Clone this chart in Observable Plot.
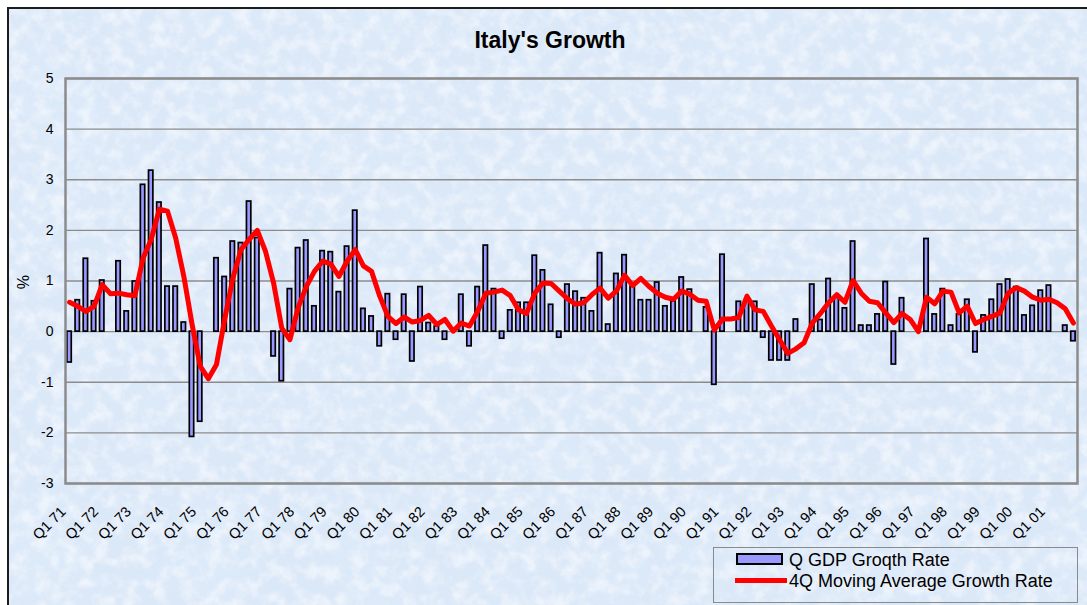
<!DOCTYPE html>
<html><head><meta charset="utf-8">
<script src="https://cdn.jsdelivr.net/npm/d3@7"></script>
<script src="https://cdn.jsdelivr.net/npm/@observablehq/plot@0.6"></script>
<style>
html,body{margin:0;padding:0;background:#fff;}
body{width:1087px;height:605px;overflow:hidden;position:relative;font-family:"Liberation Sans",Arial,sans-serif;color:#000;}
#frame{position:absolute;left:7px;top:7px;width:1100px;height:620px;border:2px solid #1c1c1c;box-sizing:border-box;overflow:hidden;background:#dbe8f8;}
#tex{position:absolute;left:0;top:0;}
#chart{position:absolute;left:0;top:0;}
#title{position:absolute;left:0;width:1100px;top:29px;text-align:center;font-weight:bold;font-size:23px;line-height:23px;}
#ylab{position:absolute;left:16px;top:273px;width:16px;height:18px;font-size:16px;line-height:18px;text-align:center;transform:rotate(-90deg);}
#legend{position:absolute;left:713px;top:547px;width:365px;height:56px;border:1px solid #8a8a8a;box-sizing:border-box;}
.lt{position:absolute;font-size:18px;line-height:18px;white-space:nowrap;}
#sw1{position:absolute;left:736px;top:553px;width:47px;height:12px;background:#9999ff;border:2px solid #000;box-sizing:border-box;}
#sw2{position:absolute;left:735px;top:578px;width:52px;height:5px;background:#ff0000;}
</style></head>
<body>
<div id="frame">
<svg id="tex" width="1100" height="620">
<filter id="n" x="0" y="0" width="100%" height="100%"><feTurbulence type="fractalNoise" baseFrequency="0.07" numOctaves="4" seed="7"/><feColorMatrix type="matrix" values="0 0 0 0 1  0 0 0 0 1  0 0 0 0 1  2.6 0 0 0 -1.05"/></filter>
<filter id="b" x="0" y="0" width="100%" height="100%"><feTurbulence type="fractalNoise" baseFrequency="0.012" numOctaves="2" seed="3"/><feColorMatrix type="matrix" values="0 0 0 0 0.75  0 0 0 0 0.85  0 0 0 0 0.97  2.2 0 0 0 -0.95"/></filter>
<rect width="1100" height="620" fill="#dbe8f8"/>
<rect width="1100" height="620" filter="url(#b)" opacity="0.4"/>
<rect width="1100" height="620" filter="url(#n)" opacity="0.5"/>
</svg>
</div>
<div id="title">Italy's Growth</div>
<div id="ylab">%</div>
<div id="legend"></div>
<div id="sw1"></div><div class="lt" style="left:789px;top:551px;">Q GDP Groqth Rate</div>
<div id="sw2"></div><div class="lt" style="left:789px;top:572px;">4Q Moving Average Growth Rate</div>
<div id="chart"></div>
<script>
const years = ["71","72","73","74","75","76","77","78","79","80","81","82","83","84","85","86","87","88","89","90","91","92","93","94","95","96","97","98","99","00","01"];
const quarterNames = ["Q1","Q2","Q3","Q4"];
const tickLabels = ["Q1 71","Q1 72","Q1 73","Q1 74","Q1 75","Q1 76","Q1 77","Q1 78","Q1 79","Q1 80","Q1 81","Q1 82","Q1 83","Q1 84","Q1 85","Q1 86","Q1 87","Q1 88","Q1 89","Q1 90","Q1 91","Q1 92","Q1 93","Q1 94","Q1 95","Q1 96","Q1 97","Q1 98","Q1 99","Q1 00","Q1 01"];
const yTicks = [-3,-2,-1,0,1,2,3,4,5];

// Quarterly GDP growth rate, %
const growth = [
 -0.61, 0.62, 1.44, 0.60, 1.01, 0.00, 1.39, 0.40, 0.99, 2.90,
  3.18, 2.55, 0.89, 0.89, 0.18,-2.08,-1.78, 0.00, 1.45, 1.08,
  1.78, 1.75, 2.57, 1.85, 0.00,-0.49,-0.98, 0.84, 1.65, 1.80,
  0.50, 1.59, 1.57, 0.78, 1.68, 2.39, 0.45, 0.30,-0.29, 0.74,
 -0.16, 0.73,-0.59, 0.88, 0.17, 0.10,-0.16, 0.00, 0.73,-0.29,
  0.88, 1.70, 0.84,-0.14, 0.42, 0.57, 0.57, 1.50, 1.21, 0.53,
 -0.12, 0.93, 0.79, 0.66, 0.40, 1.55, 0.14, 1.14, 1.51, 0.89,
  0.62, 0.62, 0.97, 0.50, 0.60, 1.07, 0.83, 0.00, 0.48,-1.05,
  1.52, 0.00, 0.59, 0.62, 0.59,-0.12,-0.57,-0.57,-0.57, 0.24,
  0.00, 0.93, 0.23, 1.04, 0.70, 0.46, 1.78, 0.12, 0.12, 0.34,
  0.98,-0.65, 0.66, 0.00, 0.00, 1.83, 0.34, 0.84, 0.12, 0.34,
  0.63,-0.41, 0.32, 0.63, 0.93, 1.03, 0.88, 0.32, 0.51, 0.81,
  0.91, 0.00, 0.12,-0.19
];
// 4Q moving average growth rate, %
const movingAvg = [
  0.58, 0.50, 0.40, 0.50, 0.93, 0.75, 0.76, 0.73, 0.71, 1.45,
  1.82, 2.42, 2.38, 1.85, 1.09, 0.15,-0.68,-0.93,-0.65, 0.24,
  1.05, 1.62, 1.82, 2.00, 1.59, 0.96, 0.07,-0.16, 0.47, 0.89,
  1.19, 1.39, 1.34, 1.09, 1.39, 1.62, 1.30, 1.19, 0.70, 0.30,
  0.16, 0.29, 0.19, 0.22, 0.32, 0.14, 0.24, 0.01, 0.17, 0.11,
  0.40, 0.76, 0.78, 0.82, 0.71, 0.43, 0.36, 0.76, 0.96, 0.95,
  0.80, 0.65, 0.54, 0.57, 0.73, 0.86, 0.66, 0.80, 1.11, 0.91,
  1.05, 0.89, 0.76, 0.68, 0.64, 0.80, 0.74, 0.62, 0.60, 0.03,
  0.25, 0.25, 0.28, 0.70, 0.43, 0.40, 0.11,-0.16,-0.43,-0.34,
 -0.22, 0.17, 0.36, 0.57, 0.73, 0.58, 1.01, 0.76, 0.60, 0.57,
  0.37, 0.18, 0.36, 0.24, 0.00, 0.68, 0.55, 0.80, 0.78, 0.37,
  0.50, 0.16, 0.24, 0.30, 0.37, 0.76, 0.87, 0.80, 0.68, 0.62,
  0.64, 0.57, 0.45, 0.17
];

const categories = [];
for (const y of years) for (const q of quarterNames) categories.push(q + " " + y);
categories.length = growth.length;

const data = categories.map((q, i) => ({q, g: growth[i], m: movingAvg[i]}));

const chart = Plot.plot({
  width: 1087, height: 540,
  marginLeft: 65, marginRight: 10, marginTop: 78, marginBottom: 57,
  style: {background: "transparent", fontFamily: '"Liberation Sans", Arial, sans-serif', fontSize: "14px", color: "#000", overflow: "visible"},
  x: {domain: categories, padding: 0, round: false, axis: null},
  y: {domain: [-3, 5], ticks: yTicks, tickSize: 0, tickPadding: 12, label: null, tickFormat: d => String(d)},
  marks: [
    Plot.ruleY(yTicks, {stroke: "#8c8c8c", strokeWidth: 1.3}),
    Plot.barY(data, {x: "q", y: "g", fill: "#9999ff", stroke: "#000", strokeWidth: 1.7, insetLeft: 1.9, insetRight: 1.9}),
    Plot.frame({stroke: "#8c8c8c", strokeWidth: 2.5}),
    Plot.line(data, {x: "q", y: "m", stroke: "#ff0000", strokeWidth: 5, strokeLinejoin: "round", strokeLinecap: "round"}),
    Plot.text(tickLabels, {x: d => d, text: d => d, frameAnchor: "bottom", rotate: -45, textAnchor: "end", dx: -3, dy: 29, fontSize: 14.5, fill: "#000"})
  ]
});
document.getElementById("chart").appendChild(chart);
</script>
</body></html>
